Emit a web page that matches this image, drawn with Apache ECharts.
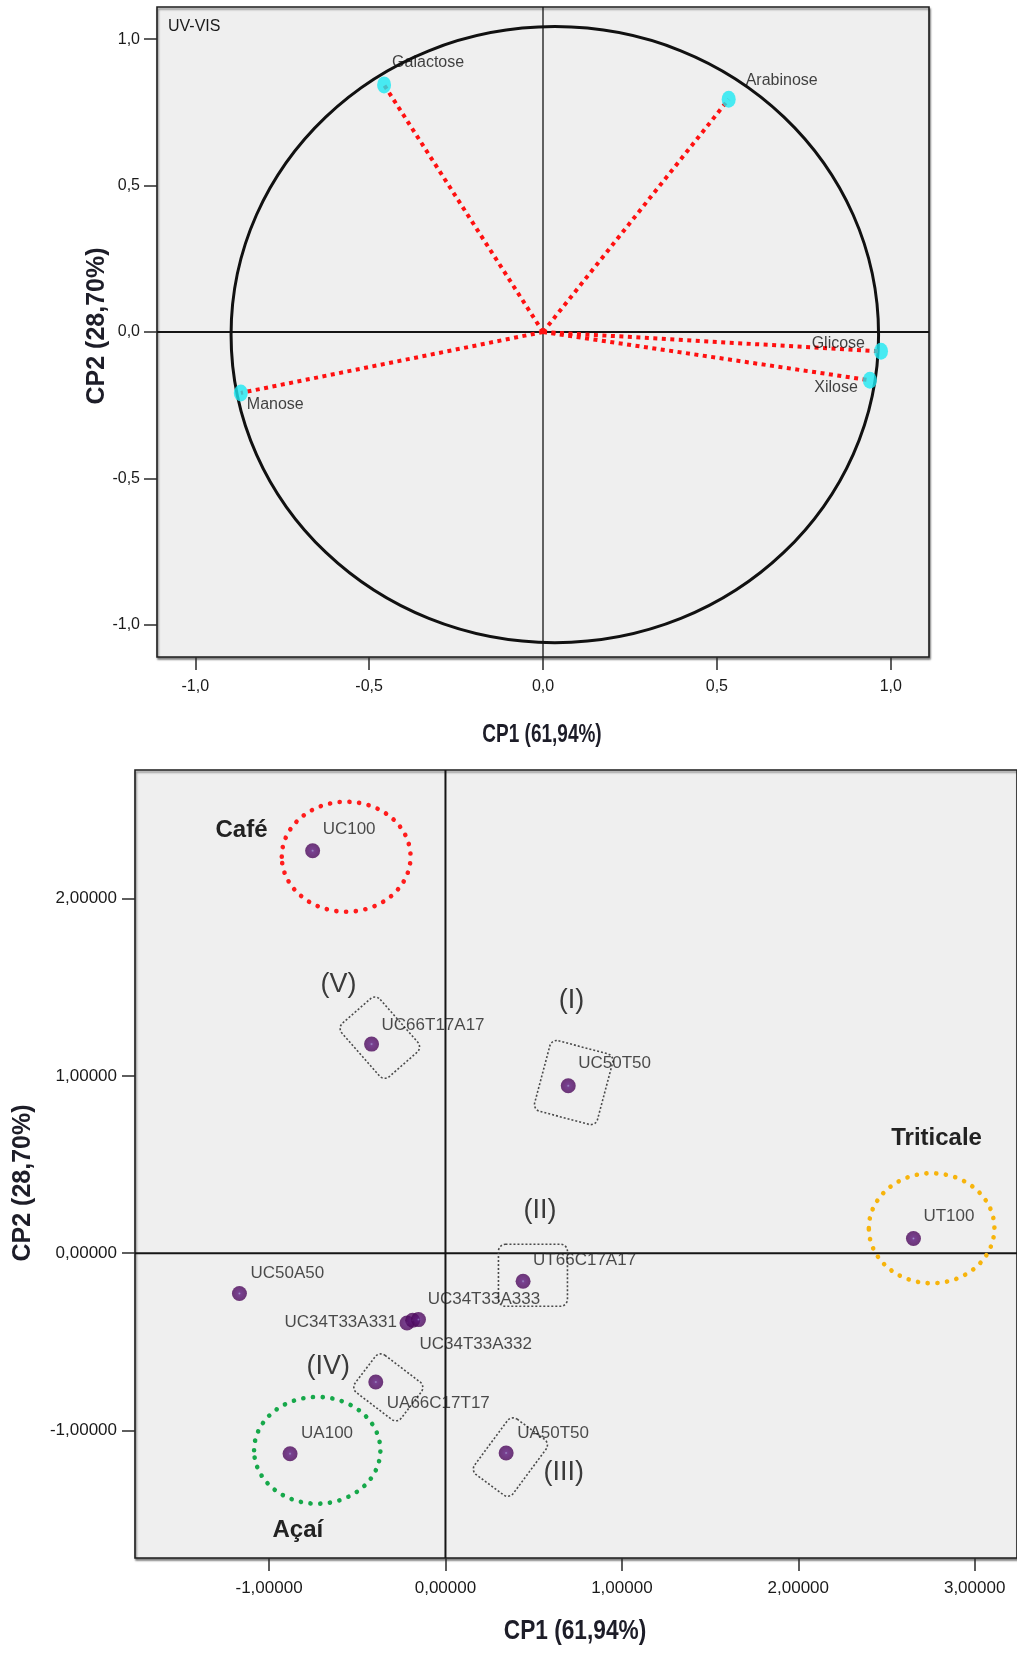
<!DOCTYPE html>
<html>
<head>
<meta charset="utf-8">
<title>PCA – UV-VIS</title>
<script src="https://cdn.jsdelivr.net/npm/echarts@6.0.0/dist/echarts.min.js"></script>
<style>
  html, body { margin: 0; padding: 0; background: #ffffff; }
  #chart { width: 1017px; height: 1653px; }
</style>
</head>
<body>
<div id="chart"></div>
<script>
// ---- Loadings of the sugars on CP1 / CP2 (correlation circle) ----
const sugars   = ['Galactose', 'Arabinose', 'Glicose', 'Xilose', 'Manose'];
const sugarCP1 = [-0.457, 0.534, 0.972, 0.940, -0.869];
const sugarCP2 = [0.844, 0.795, -0.066, -0.165, -0.208];

// ---- Scores of the samples on CP1 / CP2 ----
const samples   = ['UC100', 'UC66T17A17', 'UC50T50', 'UT100', 'UT66C17A17', 'UC50A50',
                   'UC34T33A331', 'UC34T33A333', 'UC34T33A332', 'UA66C17T17', 'UA100', 'UA50T50'];
const sampleCP1 = [-0.753, -0.419, 0.696, 2.653, 0.440, -1.168, -0.218, -0.186, -0.153, -0.395, -0.881, 0.344];
const sampleCP2 = [2.269, 1.179, 0.944, 0.083, -0.158, -0.227, -0.393, -0.378, -0.374, -0.726, -1.130, -1.126];

// ---- Tick values ----
const loadingTicks = [-1, -0.5, 0, 0.5, 1];
const scoreTicksX  = [-1, 0, 1, 2, 3];
const scoreTicksY  = [-1, 0, 1, 2];

// ---- Titles ----
const panelTag = 'UV-VIS';
const titleCP1 = 'CP1 (61,94%)';
const titleCP2 = 'CP2 (28,70%)';

// ---- Correlation circle (centre and radii in loading units) ----
const circleCenter = [0.034, -0.009];
const circleRadii  = [0.931, 1.052];

// ---- Group annotations on the score plot ----
const groupNames  = ['Café', 'Triticale', 'Açaí'];
const groupCP1    = [-0.563, 2.756, -0.727];
const groupCP2    = [2.235, 0.141, -1.111];
const groupSpanX  = [0.365, 0.356, 0.358];
const groupSpanY  = [0.310, 0.310, 0.301];
const groupColors = ['#ff1c1c', '#f7b40c', '#16a84a'];
const groupTitleCP1 = [-1.156, 2.784, -0.837];
const groupTitleCP2 = [2.386, 0.649, -1.562];

const clusterNames = ['(V)', '(I)', '(II)', '(IV)', '(III)'];
const clusterTagCP1 = [-0.607, 0.714, 0.536, -0.665, 0.671];
const clusterTagCP2 = [1.517, 1.427, 0.240, -0.637, -1.238];
const clusterBoxCP1 = [-0.372, 0.727, 0.496, -0.324, 0.368];
const clusterBoxCP2 = [1.215, 0.962, -0.124, -0.756, -1.149];

// ---- Styling ----
const FONT = '"Liberation Sans", Arial, Helvetica, sans-serif';
// box size (px) and clockwise tilt (deg) of each dotted cluster frame
const clusterBoxStyle = [
  { w: 71, h: 51, tilt: 48.8 },
  { w: 65, h: 73, tilt: 14.9 },
  { w: 69, h: 62, tilt: 0 },
  { w: 58, h: 47, tilt: 37.3 },
  { w: 48, h: 69, tilt: 36.5 }
];
const sugarLabel = {
  'Galactose': { position: 'right', distance: 2, offset: [-1, -22] },
  'Arabinose': { position: 'right', distance: 2, offset: [8, -19] },
  'Glicose':   { position: 'left',  distance: 2, offset: [-7, -8] },
  'Xilose':    { position: 'left',  distance: 2, offset: [-3, 7] },
  'Manose':    { position: 'right', distance: 2, offset: [-3, 12] }
};
const sampleLabel = {
  'UC100':       { position: 'right', offset: [0, -21] },
  'UC66T17A17':  { position: 'right', offset: [0, -19] },
  'UC50T50':     { position: 'right', offset: [0, -22] },
  'UT100':       { position: 'right', offset: [0, -22] },
  'UT66C17A17':  { position: 'right', offset: [0, -21] },
  'UC50A50':     { position: 'right', offset: [1, -20] },
  'UC34T33A331': { position: 'left',  offset: [0, -1] },
  'UC34T33A333': { position: 'right', offset: [5, -21] },
  'UC34T33A332': { position: 'right', offset: [-9, 25] },
  'UA66C17T17':  { position: 'right', offset: [1, 21] },
  'UA100':       { position: 'right', offset: [1, -20] },
  'UA50T50':     { position: 'right', offset: [1, -20] }
};

const commaFixed = (digits) => (v) => Number(v).toFixed(digits).replace('.', ',');

const gridBase = {
  show: true,
  backgroundColor: '#efefef',
  borderColor: '#1e1e1e',
  borderWidth: 1.6,
  shadowColor: 'rgba(0,0,0,0.45)',
  shadowBlur: 2,
  shadowOffsetX: 1,
  shadowOffsetY: 2
};

function valueAxis(gridIndex, min, max, ticks, digits, margin, fontSize) {
  return {
    type: 'value', gridIndex, min, max,
    axisLine: { show: false, onZero: false },
    splitLine: { show: false },
    axisTick: { show: true, length: 13, customValues: ticks, lineStyle: { color: '#2a2a2a', width: 1.5 } },
    axisLabel: { customValues: ticks, margin, formatter: commaFixed(digits),
                 fontFamily: FONT, fontSize, color: '#1a1a1a' }
  };
}

// horizontal + vertical reference lines through the origin
function zeroCross(hWidth, vWidth) {
  return (params, api) => {
    const cs = params.coordSys;
    const o = api.coord([0, 0]);
    return {
      type: 'group',
      children: [
        { type: 'line', shape: { x1: cs.x, y1: o[1], x2: cs.x + cs.width, y2: o[1] },
          style: { stroke: '#151515', lineWidth: hWidth } },
        { type: 'line', shape: { x1: o[0], y1: cs.y, x2: o[0], y2: cs.y + cs.height },
          style: { stroke: '#151515', lineWidth: vWidth } }
      ]
    };
  };
}

function ellipseItem(colors, width, dash) {
  return (params, api) => {
    const c = api.coord([api.value(0), api.value(1)]);
    const e = api.coord([api.value(0) + api.value(2), api.value(1) + api.value(3)]);
    return {
      type: 'ellipse',
      shape: { cx: c[0], cy: c[1], rx: Math.abs(e[0] - c[0]), ry: Math.abs(e[1] - c[1]) },
      style: { fill: 'none', stroke: colors[params.dataIndex % colors.length], lineWidth: width,
               lineDash: dash, lineCap: dash ? 'round' : 'butt' }
    };
  };
}

function textItem(texts, font, color) {
  return (params, api) => {
    const p = api.coord([api.value(0), api.value(1)]);
    return {
      type: 'text', x: p[0], y: p[1],
      style: { text: texts[params.dataIndex], font, fill: color,
               align: 'center', verticalAlign: 'middle' }
    };
  };
}

const dotFill = {
  type: 'radial', x: 0.5, y: 0.5, r: 0.5,
  colorStops: [
    { offset: 0, color: '#8a7cc0' },
    { offset: 0.2, color: '#5a1478' },
    { offset: 1, color: '#4a0758' }
  ]
};

const option = {
  animation: false,
  backgroundColor: '#ffffff',
  grid: [
    Object.assign({ left: 157, top: 7, width: 772, height: 650 }, gridBase),
    Object.assign({ left: 135, top: 770, width: 884, height: 788 }, gridBase)
  ],
  xAxis: [
    valueAxis(0, -1.11, 1.11, loadingTicks, 1, 22, 16),
    valueAxis(1, -1.76, 3.24, scoreTicksX, 5, 22, 17)
  ],
  yAxis: [
    valueAxis(0, -1.11, 1.11, loadingTicks, 1, 17, 16),
    valueAxis(1, -1.718, 2.724, scoreTicksY, 5, 18, 17)
  ],
  graphic: [
    { type: 'text', x: 168, y: 27, z: 50,
      style: { text: panelTag, font: '16px ' + FONT, fill: '#1a1a1a', align: 'left', verticalAlign: 'middle',
               textAlign: 'left', textVerticalAlign: 'middle' } },
    { type: 'text', x: 542, y: 735, scaleX: 0.76, z: 50,
      style: { text: titleCP1, font: 'bold 25px ' + FONT, fill: '#1d1d28', align: 'center', verticalAlign: 'middle',
               textAlign: 'center', textVerticalAlign: 'middle' } },
    { type: 'text', x: 97, y: 326, rotation: Math.PI / 2, z: 50,
      style: { text: titleCP2, font: 'bold 25px ' + FONT, fill: '#1d1d28', align: 'center', verticalAlign: 'middle',
               textAlign: 'center', textVerticalAlign: 'middle' } },
    { type: 'text', x: 575, y: 1632, scaleX: 0.84, z: 50,
      style: { text: titleCP1, font: 'bold 27px ' + FONT, fill: '#1d1d28', align: 'center', verticalAlign: 'middle',
               textAlign: 'center', textVerticalAlign: 'middle' } },
    { type: 'text', x: 23, y: 1183, rotation: Math.PI / 2, z: 50,
      style: { text: titleCP2, font: 'bold 25px ' + FONT, fill: '#1d1d28', align: 'center', verticalAlign: 'middle',
               textAlign: 'center', textVerticalAlign: 'middle' } }
  ],
  series: [
    // ---------- correlation circle panel ----------
    { type: 'custom', xAxisIndex: 0, yAxisIndex: 0, z: 1, silent: true,
      data: [[0, 0]], renderItem: zeroCross(2, 1.3) },
    { type: 'custom', xAxisIndex: 0, yAxisIndex: 0, z: 2, silent: true,
      data: [[circleCenter[0], circleCenter[1], circleRadii[0], circleRadii[1]]],
      renderItem: ellipseItem(['#111111'], 3, null) },
    { type: 'custom', xAxisIndex: 0, yAxisIndex: 0, z: 3, silent: true,
      data: sugars.map((s, i) => [sugarCP1[i], sugarCP2[i]]),
      renderItem: (params, api) => {
        const o = api.coord([0, 0]);
        const p = api.coord([api.value(0), api.value(1)]);
        return { type: 'line', shape: { x1: o[0], y1: o[1], x2: p[0], y2: p[1] },
                 style: { stroke: '#ff1010', lineWidth: 4, lineDash: [4, 4.5] } };
      } },
    { type: 'scatter', xAxisIndex: 0, yAxisIndex: 0, z: 4, silent: true,
      symbol: 'circle', symbolSize: [14, 17],
      itemStyle: { color: '#1de8f2' },
      data: sugars.map((s, i) => ({
        name: s, value: [sugarCP1[i], sugarCP2[i]],
        label: Object.assign({ show: true, formatter: '{b}', fontFamily: FONT, fontSize: 16, color: '#111111' },
                             sugarLabel[s])
      })) },

    // ---------- score panel ----------
    { type: 'custom', xAxisIndex: 1, yAxisIndex: 1, z: 1, silent: true,
      data: [[0, 0]], renderItem: zeroCross(2, 2) },
    { type: 'custom', xAxisIndex: 1, yAxisIndex: 1, z: 2, silent: true,
      data: groupNames.map((g, i) => [groupCP1[i], groupCP2[i], groupSpanX[i], groupSpanY[i]]),
      renderItem: ellipseItem(groupColors, 4.6, [0.1, 9.6]) },
    { type: 'custom', xAxisIndex: 1, yAxisIndex: 1, z: 2, silent: true,
      data: clusterNames.map((c, i) => [clusterBoxCP1[i], clusterBoxCP2[i]]),
      renderItem: (params, api) => {
        const p = api.coord([api.value(0), api.value(1)]);
        const b = clusterBoxStyle[params.dataIndex];
        return { type: 'rect', x: p[0], y: p[1], rotation: -b.tilt * Math.PI / 180,
                 shape: { x: -b.w / 2, y: -b.h / 2, width: b.w, height: b.h, r: 7 },
                 style: { fill: 'none', stroke: '#4a4a4a', lineWidth: 1.6, lineDash: [2, 2] } };
      } },
    { type: 'custom', xAxisIndex: 1, yAxisIndex: 1, z: 3, silent: true,
      data: groupNames.map((g, i) => [groupTitleCP1[i], groupTitleCP2[i]]),
      renderItem: textItem(groupNames, 'bold 24px ' + FONT, '#222222') },
    { type: 'custom', xAxisIndex: 1, yAxisIndex: 1, z: 3, silent: true,
      data: clusterNames.map((c, i) => [clusterTagCP1[i], clusterTagCP2[i]]),
      renderItem: textItem(clusterNames, '27px ' + FONT, '#3a3a3a') },
    { type: 'scatter', xAxisIndex: 1, yAxisIndex: 1, z: 4, silent: true,
      symbol: 'circle', symbolSize: 15,
      itemStyle: { color: dotFill },
      data: samples.map((s, i) => ({
        name: s, value: [sampleCP1[i], sampleCP2[i]],
        label: Object.assign({ show: true, formatter: '{b}', distance: 2.5, fontFamily: FONT, fontSize: 17,
                               color: '#1f1f1f' }, sampleLabel[s])
      })) }
  ]
};

const chart = echarts.init(document.getElementById('chart'), null, { renderer: 'canvas' });
chart.setOption(option);
</script>
</body>
</html>
